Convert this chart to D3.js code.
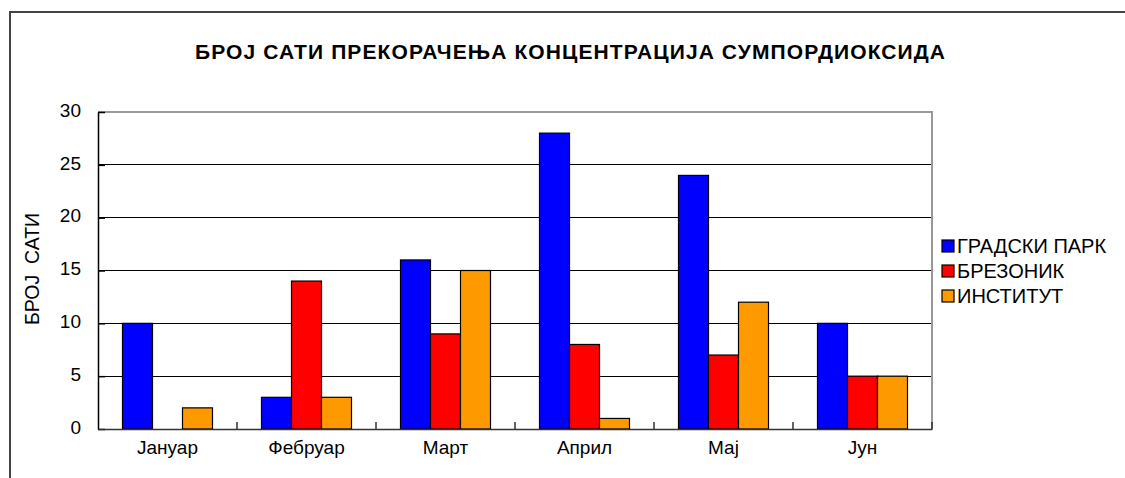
<!DOCTYPE html>
<html><head><meta charset="utf-8">
<script src="https://cdn.jsdelivr.net/npm/d3@7/dist/d3.min.js"></script>
<style>body{margin:0;background:#fff}svg{display:block}text{font-family:Arial,"Liberation Sans",sans-serif}</style>
</head><body><svg id="c" width="1125" height="478"></svg>
<script>
const months = ["Јануар","Фебруар","Март","Април","Мај","Јун"];
const seriesNames = ["ГРАДСКИ ПАРК","БРЕЗОНИК","ИНСТИТУТ"];
const gradskiPark = [10,3,16,28,24,10];
const brezonik = [0,14,9,8,7,5];
const institut = [2,3,15,1,12,5];
const yTicks = [0,5,10,15,20,25,30];
const colors = ["#0000ff","#ff0000","#ff9900"];
const series = [gradskiPark, brezonik, institut];

const svg = d3.select("#c");
const L=98, R=932, T=112, B=429;

// outer frame
svg.append("path").attr("d","M10,478 V12 H1125").attr("fill","none").attr("stroke","#444").attr("stroke-width",2);

const x = d3.scaleBand().domain(months).range([L,R]).paddingInner(0).paddingOuter(0);
const xs = d3.scaleBand().domain(d3.range(3)).range([0,90]);
const y = d3.scaleLinear().domain([0,30]).range([B,T]);

// gridlines
svg.append("g").selectAll("line").data(yTicks.filter(t=>t>0&&t<30)).join("line")
  .attr("x1",L).attr("x2",R).attr("y1",d=>y(d)).attr("y2",d=>y(d)).attr("stroke","#000").attr("stroke-width",1).attr("shape-rendering","crispEdges");
// top & right border gray
svg.append("path").attr("d",`M${L},${T} H${R} V${B}`).attr("fill","none").attr("stroke","#999").attr("stroke-width",1.3).attr("shape-rendering","crispEdges");

// bars
const g = svg.append("g");
series.forEach((vals,si)=>{
  g.append("g").selectAll("rect").data(vals.map((v,i)=>({m:months[i],v}))).join("rect")
   .attr("x",d=>x(d.m)+(x.bandwidth()-90)/2+xs(si))
   .attr("width",xs.bandwidth())
   .attr("y",d=>y(d.v)).attr("height",d=>B-y(d.v))
   .attr("fill",colors[si]).attr("stroke","#000").attr("stroke-width",1.2)
   .style("display",d=>d.v===0?"none":null);
});

// y axis
const ya = svg.append("g").attr("transform",`translate(${L},0)`)
  .call(d3.axisLeft(y).tickValues(yTicks).tickSizeInner(-7).tickSizeOuter(0).tickPadding(17));
ya.select(".domain").attr("stroke","#000").attr("stroke-width",1.5);
ya.selectAll(".tick line").attr("stroke","#000").attr("stroke-width",1.5);
ya.selectAll("text").attr("font-size",19).attr("fill","#000").attr("dy","0.22em").attr("font-family","Arial, Liberation Sans");

// x axis
const xa = svg.append("g").attr("transform",`translate(0,${B})`)
  .call(d3.axisBottom(x).tickSize(0).tickPadding(12));
xa.select(".domain").attr("stroke","#333").attr("stroke-width",1.5);
xa.selectAll("text").attr("font-size",19).attr("fill","#000").attr("font-family","Arial, Liberation Sans");
// category separator ticks
svg.append("g").selectAll("line").data(months).join("line")
  .attr("x1",d=>x(d)+x.bandwidth()).attr("x2",d=>x(d)+x.bandwidth())
  .attr("y1",B).attr("y2",B-7).attr("stroke","#333").attr("stroke-width",1.5);

// title
svg.append("text").attr("x",570).attr("y",59).attr("text-anchor","middle")
  .attr("font-size",21).attr("font-weight","bold").attr("fill","#000")
  .attr("textLength",750).attr("lengthAdjust","spacing")
  .text("БРОЈ САТИ ПРЕКОРАЧЕЊА КОНЦЕНТРАЦИЈА СУМПОРДИОКСИДА");

// y title
svg.append("text").attr("transform","translate(39,269) rotate(-90)").attr("text-anchor","middle")
  .attr("font-size",19.5).attr("fill","#000").style("white-space","pre").text("БРОЈ  САТИ");

// legend
const lg = svg.append("g");
seriesNames.forEach((n,i)=>{
  const cy = 246 + i*25;
  lg.append("rect").attr("x",942).attr("y",cy-6).attr("width",12).attr("height",12)
    .attr("fill",colors[i]).attr("stroke","#000").attr("stroke-width",1.2);
  lg.append("text").attr("x",957).attr("y",cy+7).attr("font-size",20).attr("fill","#000").text(n);
});
</script></body></html>
